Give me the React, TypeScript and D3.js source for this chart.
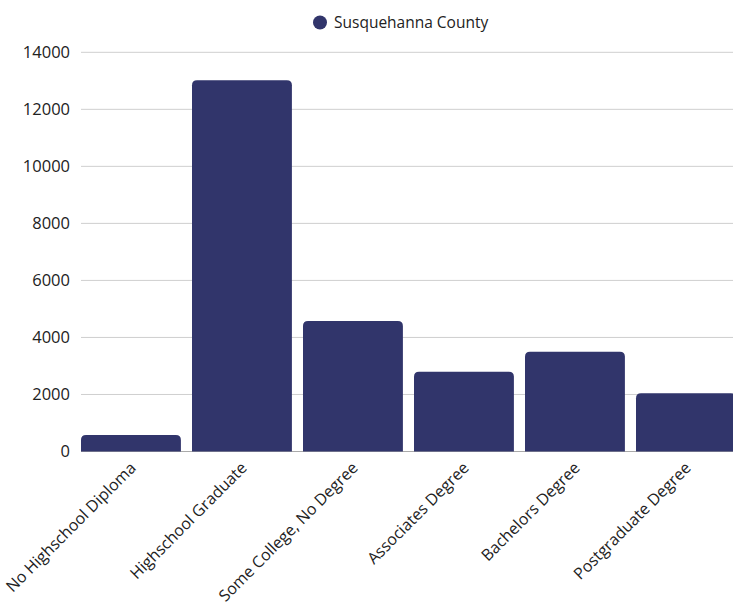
import React from "react";
import * as d3 from "d3";

const categories = [
  "No Highschool Diploma",
  "Highschool Graduate",
  "Some College, No Degree",
  "Associates Degree",
  "Bachelors Degree",
  "Postgraduate Degree",
];
const values = [580, 13020, 4580, 2800, 3500, 2040];
const yTicks = [0, 2000, 4000, 6000, 8000, 10000, 12000, 14000];
const seriesName = "Susquehanna County";

const W = 733;
const H = 605;
const color = "#31356b";
const font = "'Open Sans', 'Noto Sans', sans-serif";

function topRoundedRect(x: number, y: number, w: number, h: number, r: number) {
  const rr = Math.min(r, h, w / 2);
  return `M${x},${y + h}V${y + rr}Q${x},${y} ${x + rr},${y}H${x + w - rr}Q${x + w},${y} ${x + w},${y + rr}V${y + h}Z`;
}

export default function App() {
  const x = d3
    .scaleBand<string>()
    .domain(categories)
    .range([75.45, 741.45])
    .paddingInner(0.1)
    .paddingOuter(0.05);
  const y = d3.scaleLinear().domain([0, 14000]).range([451.5, 52.3]);
  const gridX0 = 81;

  return (
    <svg
      width={W}
      height={H}
      style={{ position: "absolute", left: 0, top: 0, display: "block" }}
      fontFamily={font}
    >
      <rect x={0} y={0} width={W} height={H} fill="#fff" />
      {/* legend */}
      <circle cx={320} cy={22.5} r={7} fill={color} />
      <text x={334} y={28} fontSize={15.5} fill="#222">
        {seriesName}
      </text>
      {/* grid + y ticks */}
      {yTicks.map((t) => (
        <g key={t}>
          <line
            x1={gridX0}
            x2={W}
            y1={y(t)}
            y2={y(t)}
            stroke={t === 0 ? "#aaa" : "#cfcfcf"}
            strokeWidth={1}
          />
          <text
            x={70}
            y={y(t)}
            dy="0.35em"
            textAnchor="end"
            fontSize={16.5}
            fill="#222"
          >
            {t}
          </text>
        </g>
      ))}
      {/* bars */}
      {categories.map((c, i) => (
        <path
          key={c}
          d={topRoundedRect(x(c)!, y(values[i]), x.bandwidth(), y(0) - y(values[i]), 5)}
          fill={color}
        />
      ))}
      {/* x labels */}
      {categories.map((c) => {
        const cx = x(c)! + x.bandwidth() / 2 + 6;
        const cy = 469;
        return (
          <text
            key={c}
            transform={`translate(${cx},${cy}) rotate(-45)`}
            textAnchor="end"
            fontSize={16}
            fill="#222"
          >
            {c}
          </text>
        );
      })}
    </svg>
  );
}
